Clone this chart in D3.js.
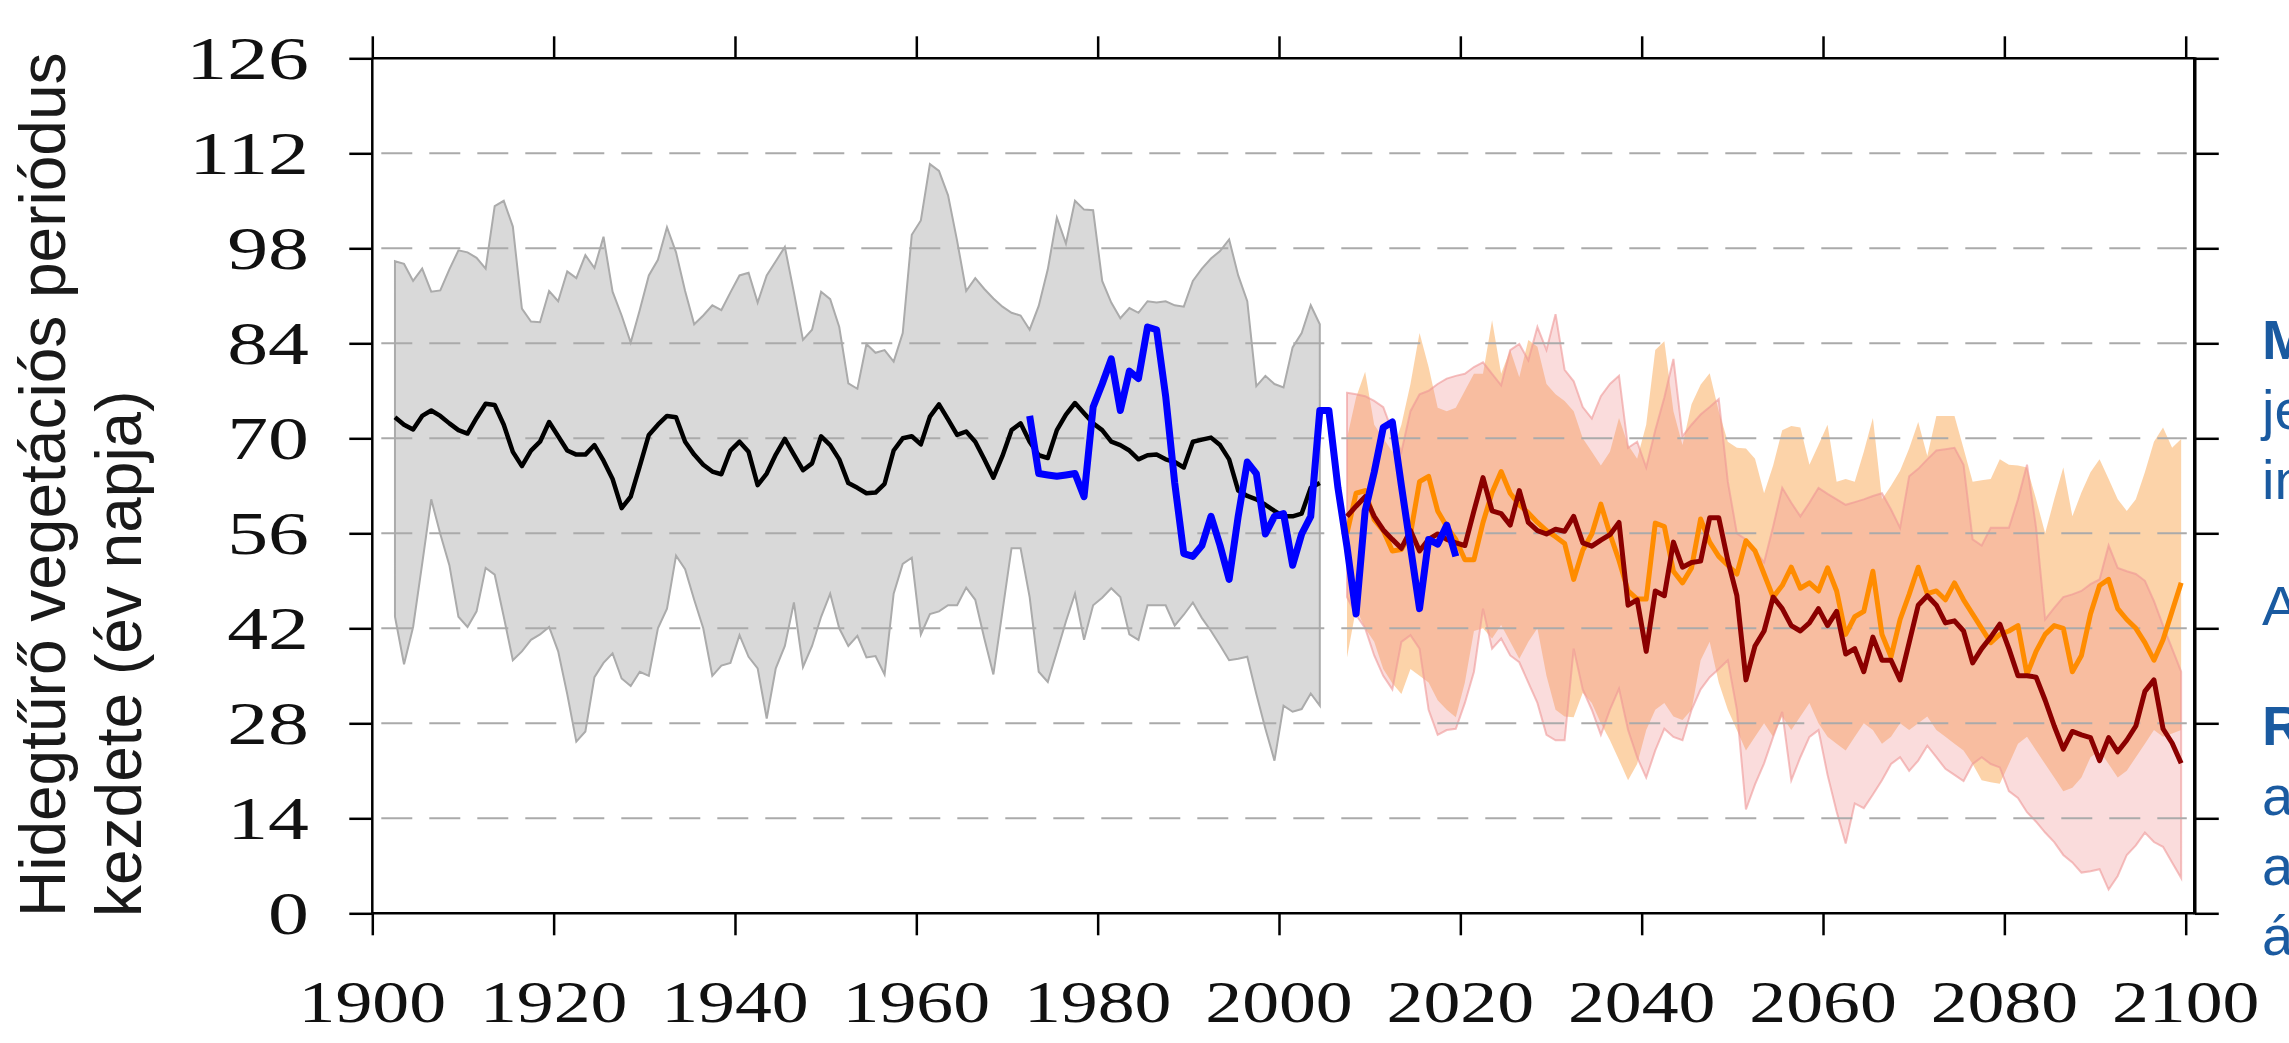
<!DOCTYPE html>
<html>
<head>
<meta charset="utf-8">
<script src="https://cdn.jsdelivr.net/npm/d3@7"></script>
<style>
html,body{margin:0;padding:0;background:#fff;}
svg{display:block;}
</style>
</head>
<body>
<svg id="chart" width="2289" height="1043"></svg>
<script>
// ---------------- DATA ----------------
const xTicks = [1900, 1920, 1940, 1960, 1980, 2000, 2020, 2040, 2060, 2080, 2100];
const yTicks = [0, 14, 28, 42, 56, 70, 84, 98, 112, 126];

// historical ensemble (grey band + black mean), yearly from 1902
const histStart = 1902;
const histMean = [
  73.1, 72.0, 71.3, 73.3, 74.1, 73.3, 72.2, 71.2, 70.7, 73.0,
  75.1, 74.9, 72.0, 68.0, 65.9, 68.2, 69.5, 72.4, 70.3, 68.2,
  67.6, 67.6, 69.0, 66.7, 64.0, 59.7, 61.4, 65.9, 70.5, 72.0,
  73.3, 73.1, 69.5, 67.6, 66.1, 65.1, 64.7, 68.2, 69.5, 68.0,
  63.1, 64.8, 67.6, 69.9, 67.6, 65.3, 66.3, 70.3, 69.0, 66.9,
  63.4, 62.7, 61.9, 62.0, 63.3, 68.2, 70.0, 70.3, 69.1, 73.2,
  75.0, 72.8, 70.5, 71.0, 69.5, 66.9, 64.2, 67.4, 71.2, 72.2,
  69.5, 67.5, 67.1, 71.2, 73.5, 75.2, 73.7, 72.2, 71.2, 69.5,
  69.0, 68.2, 66.9, 67.5, 67.6, 66.9, 66.5, 65.7, 69.5, 69.8,
  70.1, 69.0, 66.9, 62.3, 61.5, 61.0, 60.2, 59.3, 58.5, 58.5,
  58.9, 62.7, 63.4
];
const histUpper = [
  96.1, 95.7, 93.2, 95.0, 91.6, 91.8, 94.9, 97.7, 97.4, 96.6,
  95.0, 104.2, 105.0, 101.2, 89.1, 87.2, 87.1, 91.7, 90.2, 94.6,
  93.6, 97.0, 95.1, 99.7, 91.6, 88.1, 84.1, 88.9, 94.0, 96.3,
  101.1, 97.4, 91.7, 86.8, 88.1, 89.6, 88.9, 91.5, 94.0, 94.4,
  90.0, 94.0, 96.1, 98.2, 91.5, 84.5, 86.0, 91.6, 90.5, 86.4,
  78.1, 77.3, 83.9, 82.6, 83.0, 81.3, 85.5, 100.0, 102.1, 110.4,
  109.4, 105.8, 99.1, 91.7, 93.6, 92.0, 90.6, 89.4, 88.5, 88.1,
  86.0, 89.5, 94.9, 102.5, 98.7, 105.0, 103.7, 103.6, 93.2, 90.0,
  87.7, 89.2, 88.5, 90.2, 90.0, 90.2, 89.6, 89.4, 93.2, 95.0,
  96.5, 97.6, 99.3, 94.0, 90.2, 77.7, 79.2, 78.0, 77.5, 83.4,
  85.5, 89.6, 86.8
];
const histLower = [
  43.7, 36.7, 42.2, 51.5, 61.0, 55.9, 51.3, 43.7, 42.2, 44.5,
  50.9, 49.9, 43.7, 37.3, 38.6, 40.3, 41.1, 42.2, 38.6, 32.3,
  25.3, 26.8, 34.8, 36.9, 38.3, 34.6, 33.5, 35.6, 35.0, 42.0,
  44.9, 52.7, 50.7, 46.2, 42.0, 35.0, 36.5, 36.9, 41.0, 37.8,
  36.1, 28.7, 36.1, 39.4, 45.8, 36.3, 39.4, 43.7, 47.1, 42.0,
  39.4, 40.9, 37.7, 37.9, 35.2, 47.1, 51.5, 52.4, 41.1, 44.1,
  44.5, 45.4, 45.4, 48.0, 46.2, 40.5, 35.2, 44.5, 53.8, 53.8,
  46.6, 35.6, 34.1, 38.5, 43.0, 47.1, 40.3, 45.4, 46.5, 47.9,
  46.6, 41.1, 40.3, 45.4, 45.4, 45.4, 42.4, 44.0, 45.8, 43.5,
  41.6, 39.5, 37.3, 37.5, 37.8, 32.3, 27.2, 22.5, 30.6, 29.7,
  30.1, 32.4, 30.6
];

// observations (blue), yearly from 1972
const obsStart = 1972;
const obsValues = [
  73.3, 64.8, 64.6, 64.4, 64.6, 64.8, 61.4, 74.6, 78.0, 81.7,
  74.1, 79.9, 78.8, 86.4, 86.0, 76.2, 63.4, 53.0, 52.6, 54.2,
  58.5, 54.2, 49.2, 58.5, 66.5, 64.8, 55.9, 58.5, 58.9, 51.3,
  55.9, 58.5, 74.1, 74.1, 62.7, 54.0, 44.1, 59.3, 65.0, 71.6,
  72.4, 63.0, 54.0, 44.9, 55.1, 54.4, 57.2, 52.6
];

// projections, yearly from 2007
const projStart = 2007;
const orangeMean = [
  56.0, 61.9, 62.3, 58.0, 56.4, 53.4, 53.6, 55.9, 63.6, 64.4,
  59.3, 57.0, 55.1, 52.1, 52.1, 57.6, 62.0, 65.1, 61.9, 60.2,
  59.0, 57.6, 56.4, 55.5, 54.5, 49.2, 53.5, 55.9, 60.3, 55.9,
  52.0, 47.5, 46.3, 46.3, 57.5, 57.0, 50.4, 48.7, 50.9, 58.1,
  54.7, 52.6, 51.3, 50.0, 54.9, 53.4, 50.0, 46.6, 48.3, 51.0,
  47.9, 48.7, 47.5, 50.9, 47.5, 41.1, 43.7, 44.5, 50.4, 41.1,
  37.8, 43.3, 47.0, 51.0, 47.1, 47.5, 46.2, 48.7, 46.2, 44.1,
  42.0, 39.9, 41.1, 41.6, 42.4, 35.2, 38.6, 41.1, 42.4, 42.0,
  35.6, 38.0, 44.1, 48.3, 49.2, 44.9, 43.3, 42.0, 39.9, 37.3,
  40.3, 44.5, 48.7
];
const redMean = [
  58.5, 60.0, 61.4, 58.5, 56.5, 55.1, 53.8, 56.4, 53.4, 55.1,
  55.9, 55.1, 54.6, 54.2, 59.3, 64.2, 59.3, 58.9, 57.2, 62.3,
  57.6, 56.4, 55.9, 56.6, 56.3, 58.5, 54.6, 54.1, 55.0, 55.8,
  57.6, 45.4, 46.2, 38.6, 47.5, 46.8, 54.7, 51.0, 51.7, 51.9,
  58.3, 58.3, 52.0, 46.8, 34.4, 39.4, 41.6, 46.6, 44.9, 42.4,
  41.6, 42.8, 44.9, 42.4, 44.5, 38.2, 39.0, 35.6, 40.7, 37.3,
  37.3, 34.4, 39.9, 45.4, 46.8, 45.4, 42.8, 43.1, 41.6, 36.9,
  39.0, 40.7, 42.6, 39.0, 35.0, 35.0, 34.8, 31.4, 27.6, 24.2,
  26.8, 26.3, 25.9, 22.5, 25.9, 23.8, 25.5, 27.6, 32.7, 34.4,
  27.2, 25.1, 22.1
];
const orangeUpper = [
  70.0, 76.0, 79.8, 72.0, 70.0, 68.0, 72.0, 78.0, 85.5, 80.5,
  74.5, 74.0, 74.5, 77.0, 79.5, 79.5, 87.4, 79.5, 83.0, 79.0,
  84.5, 83.5, 78.0, 76.5, 75.5, 74.0, 70.0, 68.0, 66.0, 68.0,
  73.0, 69.0, 67.0, 72.0, 83.0, 84.3, 74.0, 69.0, 75.0, 77.9,
  79.6, 74.0, 69.5, 68.6, 68.5, 67.0, 61.9, 66.0, 71.2, 71.8,
  71.6, 66.1, 69.0, 72.0, 63.6, 64.0, 63.6, 68.0, 73.0, 61.0,
  63.0, 65.2, 68.5, 72.4, 67.4, 73.3, 73.3, 73.3, 68.5, 63.6,
  63.8, 64.0, 66.9, 66.1, 66.0, 65.7, 61.0, 56.0, 61.0, 65.7,
  58.5, 62.0, 65.0, 66.9, 64.0, 61.0, 59.3, 61.0, 65.0, 69.5,
  71.6, 68.6, 69.9
];
const orangeLower = [
  37.7, 44.9, 42.0, 40.0, 36.0, 33.9, 32.3, 36.0, 35.0, 34.0,
  31.4, 30.0, 28.9, 34.0, 41.6, 42.0, 40.5, 42.5, 40.0, 37.5,
  40.0, 42.0, 35.0, 30.0, 29.0, 28.9, 32.5, 31.0, 28.0, 25.5,
  22.6, 19.6, 22.0, 27.0, 30.0, 31.0, 29.0, 28.5, 30.0, 37.3,
  40.0, 34.0, 30.0, 27.0, 24.0, 26.0, 28.0, 26.0, 29.0, 27.0,
  29.0, 31.0, 28.0, 26.0, 25.0, 24.0, 26.0, 28.0, 27.0, 25.0,
  26.0, 28.0, 27.0, 28.0, 29.0, 27.0, 26.0, 25.0, 24.0, 22.0,
  19.6, 19.3, 19.1, 22.0, 25.0, 26.0, 24.0, 22.0, 20.0, 18.0,
  18.5, 20.0, 23.0, 24.0, 22.0, 20.0, 21.0, 23.0, 25.0, 27.0,
  26.0, 26.5, 27.0
];
const redUpper = [
  76.7, 76.5, 76.2, 75.5, 74.6, 71.0, 68.0, 74.0, 76.5, 77.0,
  78.0, 78.8, 79.2, 79.5, 80.5, 81.2, 79.5, 77.8, 83.0, 83.9,
  81.5, 86.4, 83.0, 88.3, 80.1, 78.4, 74.6, 72.9, 76.2, 78.0,
  79.2, 68.6, 69.5, 65.7, 71.2, 76.0, 81.7, 70.3, 72.0, 73.5,
  74.6, 75.8, 63.6, 56.0, 55.1, 53.5, 51.7, 57.0, 62.7, 60.5,
  58.5, 60.5, 62.7, 61.8, 61.0, 60.2, 60.6, 61.0, 61.5, 61.9,
  59.5, 56.8, 64.4, 65.5, 66.9, 68.2, 68.4, 68.6, 66.1, 55.1,
  54.2, 56.8, 56.8, 56.8, 61.0, 66.1, 56.8, 43.3, 45.0, 46.6,
  47.0, 47.5, 48.5, 49.2, 54.2, 50.9, 50.4, 50.0, 49.0, 46.0,
  42.4, 39.0, 35.6
];
const redLower = [
  46.6, 44.0, 42.0, 38.0, 35.0, 33.0, 40.0, 41.0, 39.0, 30.0,
  26.3, 27.0, 27.2, 31.0, 35.6, 44.9, 39.0, 40.5, 38.0, 37.0,
  34.0, 31.0, 26.3, 25.5, 25.5, 39.0, 33.0, 30.0, 26.3, 30.0,
  33.1, 27.0, 23.0, 20.0, 24.0, 27.2, 26.0, 25.5, 30.0, 33.0,
  34.8, 36.0, 37.3, 30.0, 15.3, 19.0, 22.1, 26.0, 29.7, 19.6,
  23.0, 26.0, 27.0, 20.4, 15.0, 10.3, 16.2, 15.5, 17.5, 19.6,
  22.0, 23.0, 21.0, 22.5, 24.7, 23.0, 21.3, 20.4, 19.5, 22.0,
  23.0, 22.0, 21.5, 18.0, 17.0, 14.9, 13.5, 11.9, 10.5, 8.6,
  7.5, 6.0, 6.2, 6.5, 3.5, 5.5, 8.6, 10.0, 11.9, 10.5,
  9.8, 7.5, 5.2
];

const yTitleLines = ["Hidegtűrő vegetációs periódus", "kezdete (év napja)"];
const sideLabels = ["M", "je", "in", "A", "R", "a", "a", "á"];
const sideBold = [true, false, false, false, true, false, false, false];

// ---------------- LAYOUT ----------------
const W = 2289, H = 1043;
const pL = 372.3, pR = 2185.7, pT = 58.3, pB = 913.3;
const x = d3.scaleLinear().domain([1900, 2100]).range([pL, pR]);
const y = d3.scaleLinear().domain([0, 126]).range([pB, pT]);
const xPos = yr => x(yr + 0.5);
const frameRight = x(2101);

const svg = d3.select('#chart');
svg.append('rect').attr('width', W).attr('height', H).attr('fill', '#fff');

const band = (start, hi, lo) => hi.map((h, i) => ({yr: start + i, hi: h, lo: lo[i]}));
const series = (start, vals) => vals.map((v, i) => ({yr: start + i, v}));

const area = d3.area().x(d => xPos(d.yr)).y0(d => y(d.lo)).y1(d => y(d.hi));
const line = d3.line().x(d => xPos(d.yr)).y(d => y(d.v));

// bands
svg.append('path').datum(band(histStart, histUpper, histLower))
  .attr('d', area).attr('fill', '#d9d9d9').attr('stroke', '#ababab').attr('stroke-width', 2);
svg.append('path').datum(band(projStart, orangeUpper, orangeLower))
  .attr('d', area).attr('fill', 'rgb(250,168,84)').attr('fill-opacity', 0.5).attr('stroke', 'none');
svg.append('path').datum(band(projStart, redUpper, redLower))
  .attr('d', area).attr('fill', 'rgb(240,140,140)').attr('fill-opacity', 0.3)
  .attr('stroke', 'rgb(238,150,150)').attr('stroke-opacity', 0.6).attr('stroke-width', 2);

// grid
svg.append('g').selectAll('line').data(yTicks.filter(t => t > 0 && t < 126)).join('line')
  .attr('x1', pL).attr('x2', frameRight - 8)
  .attr('y1', d => y(d)).attr('y2', d => y(d))
  .attr('stroke', '#aaaaaa').attr('stroke-width', 2)
  .attr('stroke-dasharray', '31 17').attr('stroke-dashoffset', 39);

// lines
svg.append('path').datum(series(histStart, histMean)).attr('d', line)
  .attr('fill', 'none').attr('stroke', '#000').attr('stroke-width', 4.5).attr('stroke-linejoin', 'round');
svg.append('path').datum(series(projStart, orangeMean)).attr('d', line)
  .attr('fill', 'none').attr('stroke', '#ff8c00').attr('stroke-width', 5).attr('stroke-linejoin', 'round');
svg.append('path').datum(series(projStart, redMean)).attr('d', line)
  .attr('fill', 'none').attr('stroke', '#8b0000').attr('stroke-width', 5).attr('stroke-linejoin', 'round');
svg.append('path').datum(series(obsStart, obsValues)).attr('d', line)
  .attr('fill', 'none').attr('stroke', '#0000ff').attr('stroke-width', 7).attr('stroke-linejoin', 'round');

// axes ticks
const styleAxis = g => { g.select('.domain').remove(); g.selectAll('.tick line').attr('stroke', '#000').attr('stroke-width', 2.5); g.selectAll('.tick text').remove(); };
svg.append('g').attr('transform', `translate(0,${pB})`).call(d3.axisBottom(x).tickValues(xTicks).tickSize(22).tickSizeOuter(0)).call(styleAxis);
svg.append('g').attr('transform', `translate(0,${pT})`).call(d3.axisTop(x).tickValues(xTicks).tickSize(22).tickSizeOuter(0)).call(styleAxis);
svg.append('g').attr('transform', `translate(${pL},0)`).call(d3.axisLeft(y).tickValues(yTicks).tickSize(23).tickSizeOuter(0)).call(styleAxis);
svg.append('g').attr('transform', `translate(${frameRight},0)`).call(d3.axisRight(y).tickValues(yTicks).tickSize(24).tickSizeOuter(0)).call(styleAxis);

// spines
const sp = svg.append('g').attr('stroke', '#000').attr('fill', 'none');
sp.append('line').attr('x1', pL).attr('x2', pL).attr('y1', pT).attr('y2', pB).attr('stroke-width', 2.5);
sp.append('line').attr('x1', pL).attr('x2', frameRight).attr('y1', pB).attr('y2', pB).attr('stroke-width', 2.5);
sp.append('line').attr('x1', pL).attr('x2', frameRight).attr('y1', pT).attr('y2', pT).attr('stroke-width', 2.5);
sp.append('line').attr('x1', frameRight).attr('x2', frameRight).attr('y1', pT - 1).attr('y2', pB + 1).attr('stroke-width', 3.5);

// tick labels
svg.append('g').selectAll('text').data(xTicks).join('text')
  .attr('transform', d => `translate(${x(d)},1022) scale(1.25,1)`)
  .attr('text-anchor', 'middle')
  .attr('font-family', '"Liberation Serif", "Times New Roman", serif')
  .attr('font-size', 59).attr('fill', '#111')
  .text(d => d);
svg.append('g').selectAll('text').data(yTicks).join('text')
  .attr('transform', d => `translate(309,${y(d) + 21}) scale(1.32,1)`)
  .attr('text-anchor', 'end')
  .attr('font-family', '"Liberation Serif", "Times New Roman", serif')
  .attr('font-size', 62).attr('fill', '#111')
  .text(d => d);

// y title
const titleBase = [65, 141];
svg.append('g').selectAll('text').data(yTitleLines).join('text')
  .attr('transform', (d, i) => `translate(${titleBase[i]},917) rotate(-90)`)
  .attr('text-anchor', 'start')
  .attr('font-family', '"Liberation Sans", Arial, sans-serif')
  .attr('font-size', 64).attr('fill', '#1a1a1a')
  .text(d => d);

// side labels (clipped by the picture edge)
const sideBase = [359, 429, 499, 625, 745, 815, 885, 955];
svg.append('g').selectAll('text').data(sideLabels).join('text')
  .attr('x', 2262).attr('y', (d, i) => sideBase[i])
  .attr('font-family', '"Liberation Sans", Arial, sans-serif')
  .attr('font-size', 56)
  .attr('font-weight', (d, i) => sideBold[i] ? 'bold' : 'normal')
  .attr('fill', '#1a5aa0')
  .text(d => d);
</script>
</body>
</html>
